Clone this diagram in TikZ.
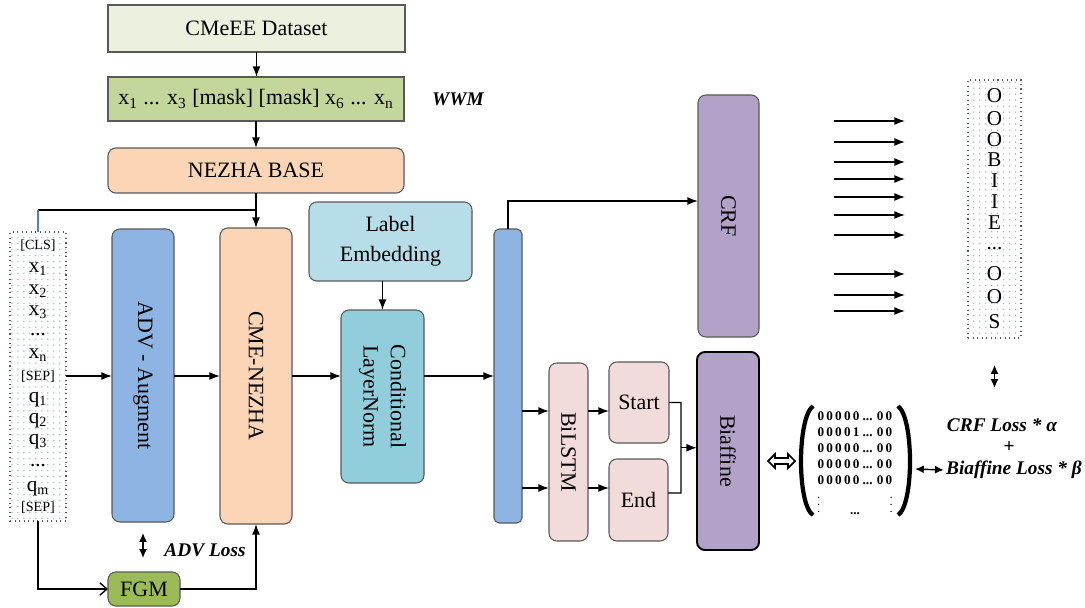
\documentclass[tikz,border=0pt]{standalone}
\usepackage{fontspec}
\usepackage{calc}
\setmainfont{Liberation Serif}
\usetikzlibrary{arrows.meta,fit,calc,patterns}

% sparse blue dot fill for the token columns
\pgfdeclarepatternformonly{sparsedots}{\pgfqpoint{-1pt}{-1pt}}{\pgfqpoint{1pt}{1pt}}{\pgfqpoint{3.4pt}{3.4pt}}%
{\pgfpathcircle{\pgfqpoint{0pt}{0pt}}{0.45pt}\pgfusepath{fill}}

\definecolor{dsfill}{HTML}{EBF1DE}
\definecolor{wwmfill}{HTML}{C3D69B}
\definecolor{nzfill}{HTML}{FBD5B5}
\definecolor{bluefill}{HTML}{8EB4E3}
\definecolor{labfill}{HTML}{B7DEE8}
\definecolor{clnfill}{HTML}{92CDDC}
\definecolor{purfill}{HTML}{B2A2C7}
\definecolor{pinkfill}{HTML}{F2DCDB}
\definecolor{fgmfill}{HTML}{9BBB59}
\definecolor{edge}{HTML}{595959}
\definecolor{dotblue}{HTML}{9DB6DE}
\definecolor{linkblue}{HTML}{4F81BD}

% width of one matrix row, measured once the fonts are ready
\newlength{\rowwd}
\newcommand{\matfont}{\bfseries\fontsize{7.5}{9.1}\selectfont}
\newcommand{\smallvdots}{\raisebox{1pt}{\fontsize{5}{5}\selectfont$\vdots$}}
\AtBeginDocument{\settowidth{\rowwd}{\matfont 0\,0\,0\,0\,0 ... 0\,0}}

\tikzset{
  box/.style={draw=edge, line width=0.6pt, inner sep=0pt, outer sep=0pt},
  rbox/.style={box, rounded corners=4.5pt},
  dotbox/.style={draw=edge, dotted, line width=0.6pt, inner sep=0pt, outer sep=0pt,
    pattern=sparsedots, pattern color=dotblue},
  htext/.style={font=\fontsize{12.5}{17}\selectfont, align=center, inner sep=0pt},
  vtext/.style={rotate=-90, font=\fontsize{12.5}{15.5}\selectfont, align=center, inner sep=0pt},
  conn/.style={line width=0.8pt, black},
  arr/.style={conn, -{Latex[length=6pt,width=4.5pt]}},
  darr/.style={conn, {Latex[length=5pt,width=4.5pt]}-{Latex[length=5pt,width=4.5pt]}},
  openarr/.style={conn, -{Straight Barb[length=4pt,width=7pt]}},
  tok/.style={font=\fontsize{12}{12}\selectfont, inner sep=0pt},
  smalltok/.style={font=\fontsize{8}{8}\selectfont, inner sep=0pt},
  note/.style={font=\bfseries\itshape\fontsize{11}{13}\selectfont, inner sep=0pt},
}

\begin{document}
\begin{tikzpicture}[x=0.02cm, y=-0.02cm]
\useasboundingbox (0,0) rectangle (1085,608);

% ---------- pre-training pipeline ----------
\node[box, fill=dsfill, fit={(108,5)(405,52)}] (ds) {};
\node[htext] (dstext) at (ds) {CMeEE Dataset};
\node[box, fill=wwmfill, fit={(108,77)(404,121)}] (wwm) {};
\node[htext] (wwmtext) at (wwm)
  {x\textsubscript{1} ... x\textsubscript{3} [mask] [mask] x\textsubscript{6} ... x\textsubscript{n}};
\node[note] (wwmlab) at (458,99) {WWM};
\node[rbox, fill=nzfill, fit={(108,148)(404,193)}] (nz) {};
\node[htext] (nztext) at (nz) {NEZHA BASE};

\draw[arr] (ds.south) -- (wwm.north -| ds.south);
\draw[arr] (wwm.south) -- (nz.north -| wwm.south);

% ---------- input token column ----------
\node[dotbox, fit={(10,232)(66,521)}] (inp) {};
\foreach \n/\yy/\t/\s in {1/246/{[CLS]}/smalltok, 2/269/{x\textsubscript{1}}/tok,
    3/291/{x\textsubscript{2}}/tok, 4/312/{x\textsubscript{3}}/tok, 5/335/{...}/tok,
    6/355/{x\textsubscript{n}}/tok, 7/377/{[SEP]}/smalltok, 8/400/{q\textsubscript{1}}/tok,
    9/421/{q\textsubscript{2}}/tok, 10/442/{q\textsubscript{3}}/tok, 11/466/{...}/tok,
    12/489/{q\textsubscript{m}}/tok, 13/508/{[SEP]}/smalltok}
  \node[\s] (tok\n) at (38,\yy) {\t};

% ---------- encoder blocks ----------
\node[rbox, fill=bluefill, fit={(112,229)(174,522)}] (adv) {};
\node[vtext] (advtext) at (adv) {ADV - Augment};
\node[rbox, fill=nzfill, fit={(220,228)(292,524)}] (cme) {};
\node[vtext] (cmetext) at (cme) {CME-NEZHA};
\node[rbox, fill=labfill, fit={(309,202)(472,281)}] (lab) {};
\node[htext] (labtext) at (lab) {Label\\Embedding};
\node[rbox, fill=clnfill, fit={(341,310)(424,483)}] (cln) {};
\node[vtext] (clntext) at (cln) {Conditional\\LayerNorm};
\node[rbox, rounded corners=3pt, fill=bluefill, fit={(494,229)(522,523)}] (bar) {};

% NEZHA BASE feeds CME-NEZHA and branches back to the token column
\draw[arr] (nz.south) -- (cme.north);
\path (nz.south) ++(0,17) coordinate (br);
\draw[conn] (br) -- (br -| inp.north);
\draw[linkblue, line width=0.8pt] (br -| inp.north) -- (inp.north);

\draw[arr] (inp.east |- cme.east) -- (adv.west |- cme.east);
\draw[arr] (adv.east |- cme.east) -- (cme.east -| cme.west);
\draw[arr] (cme.east) -- (cme.east -| cln.west);
\draw[arr] (cln.north |- lab.south) -- (cln.north);
\draw[arr] (cme.east -| cln.east) -- (cme.east -| bar.west);

% ---------- adversarial branch ----------
\node[rbox, fill=fgmfill, fit={(108,572)(180,606)}] (fgm) {};
\node[htext] (fgmtext) at (fgm) {FGM};
\draw[openarr] (inp.south) |- (fgm.west);
\draw[arr] (fgm.east) -| (cme.south);
\draw[darr] ($(adv.south)+(0,11)$) coordinate (al1) -- ($(adv.south)+(0,36)$) coordinate (al2);
\node[note] (advloss) at (205,550) {ADV Loss};

% ---------- CRF head ----------
\node[rbox, fill=purfill, fit={(698,95)(759,337)}] (crf) {};
\node[vtext] (crftext) at (crf) {CRF};
\coordinate (crfin) at ($(crf.west)+(0,-15)$);
\draw[arr] (bar.north) |- (crfin);

\foreach \n/\yy in {1/121,2/142,3/162,4/179,5/197,6/215,7/235,8/274,9/295,10/311}{
  \coordinate (a\n) at (834,\yy);
  \coordinate (b\n) at (905,\yy);
  \draw[arr] (a\n) -- (b\n);
}

\node[dotbox, fit={(968,80)(1021,338)}] (out) {};
\foreach \n/\yy/\t in {1/96/O,2/119/O,3/140/O,4/160/B,5/181/I,6/202/I,7/223/E,
    8/249/{...},9/274/O,10/297/O,11/322/S}
  \node[tok] (lbl\n) at (994.5,\yy) {\t};

% ---------- span (Biaffine) head ----------
\node[rbox, fill=pinkfill, fit={(549,363)(588,541)}] (bil) {};
\node[vtext] (biltext) at (bil) {BiLSTM};
\node[rbox, fill=pinkfill, fit={(609,362)(669,443)}] (st) {};
\node[htext] (sttext) at (st) {Start};
\node[rbox, fill=pinkfill, fit={(609,459)(668,541)}] (en) {};
\node[htext] (entext) at (en) {End};
\node[rbox, draw=black, line width=1.1pt, fill=purfill, fit={(697,352)(759,550)}] (bia) {};
\node[vtext] (biatext) at (bia) {Biaffine};

\coordinate (u1) at ($(bil.west)+(0,-41)$);
\coordinate (u2) at ($(bil.west)+(0,36)$);
\draw[arr] (u1 -| bar.east) -- (u1);
\draw[arr] (u2 -| bar.east) -- (u2);
\draw[arr] (u1 -| bil.east) -- (u1 -| st.west);
\draw[arr] (u2 -| bil.east) -- (u2 -| en.west);

\coordinate (j1) at ($(st.east)+(12,0)$);
\coordinate (j2) at ($(en.east)+(13,-7)$);
\draw[conn] (st.east) -- (j1) -- (j2) -- (j2 -| en.east);
\coordinate (jm) at ($(j1)!0.5!(j2)$);
\draw[arr] (jm) -- (jm -| bia.west);

% hollow two-way arrow between Biaffine and the span matrix
\coordinate (ha) at ($(bia.east)+(9,10)$);
\draw[line width=1pt, fill=white, line join=miter] (ha) -- ++(7,-7) -- ++(0,4) -- ++(13,0) -- ++(0,-4)
  -- ++(7,7) -- ++(-7,7) -- ++(0,-4) -- ++(-13,0) -- ++(0,4) -- cycle;

% span matrix with its large parentheses
\node[inner sep=0pt, align=center, font=\matfont] (mat) at (855,463)
  {0\,0\,0\,0\,0 ... 0\,0\\0\,0\,0\,0\,1 ... 0\,0\\0\,0\,0\,0\,0 ... 0\,0\\0\,0\,0\,0\,0 ... 0\,0\\
   0\,0\,0\,0\,0 ... 0\,0\\ \makebox[\rowwd]{\smallvdots\hfill...\hfill\smallvdots}};
\draw[line width=2.4pt] ($(mat.center)+(-42,-57)$) .. controls ($(mat.center)+(-58,-45)$)
  and ($(mat.center)+(-58,42)$) .. ($(mat.center)+(-42,52)$);
\draw[line width=2.4pt] ($(mat.center)+(43,-57)$) .. controls ($(mat.center)+(59,-45)$)
  and ($(mat.center)+(59,42)$) .. ($(mat.center)+(43,52)$);

% joint loss
\node[note] (crfloss) at (1002,425) {CRF Loss * α};
\node[note, font=\bfseries\fontsize{11}{13}\selectfont] (plus) at (1009,447) {+};
\node[note] (bialoss) at (1014,470) {Biaffine Loss * β};
\coordinate (mr) at ($(mat.center)+(60,6)$);
\draw[darr] (mr) -- ($(bialoss.west)+(-2,0)$);
\draw[darr] ($(out.south)+(0,27)$) coordinate (ol1) -- ($(out.south)+(0,50)$) coordinate (ol2);
\end{tikzpicture}
\end{document}
